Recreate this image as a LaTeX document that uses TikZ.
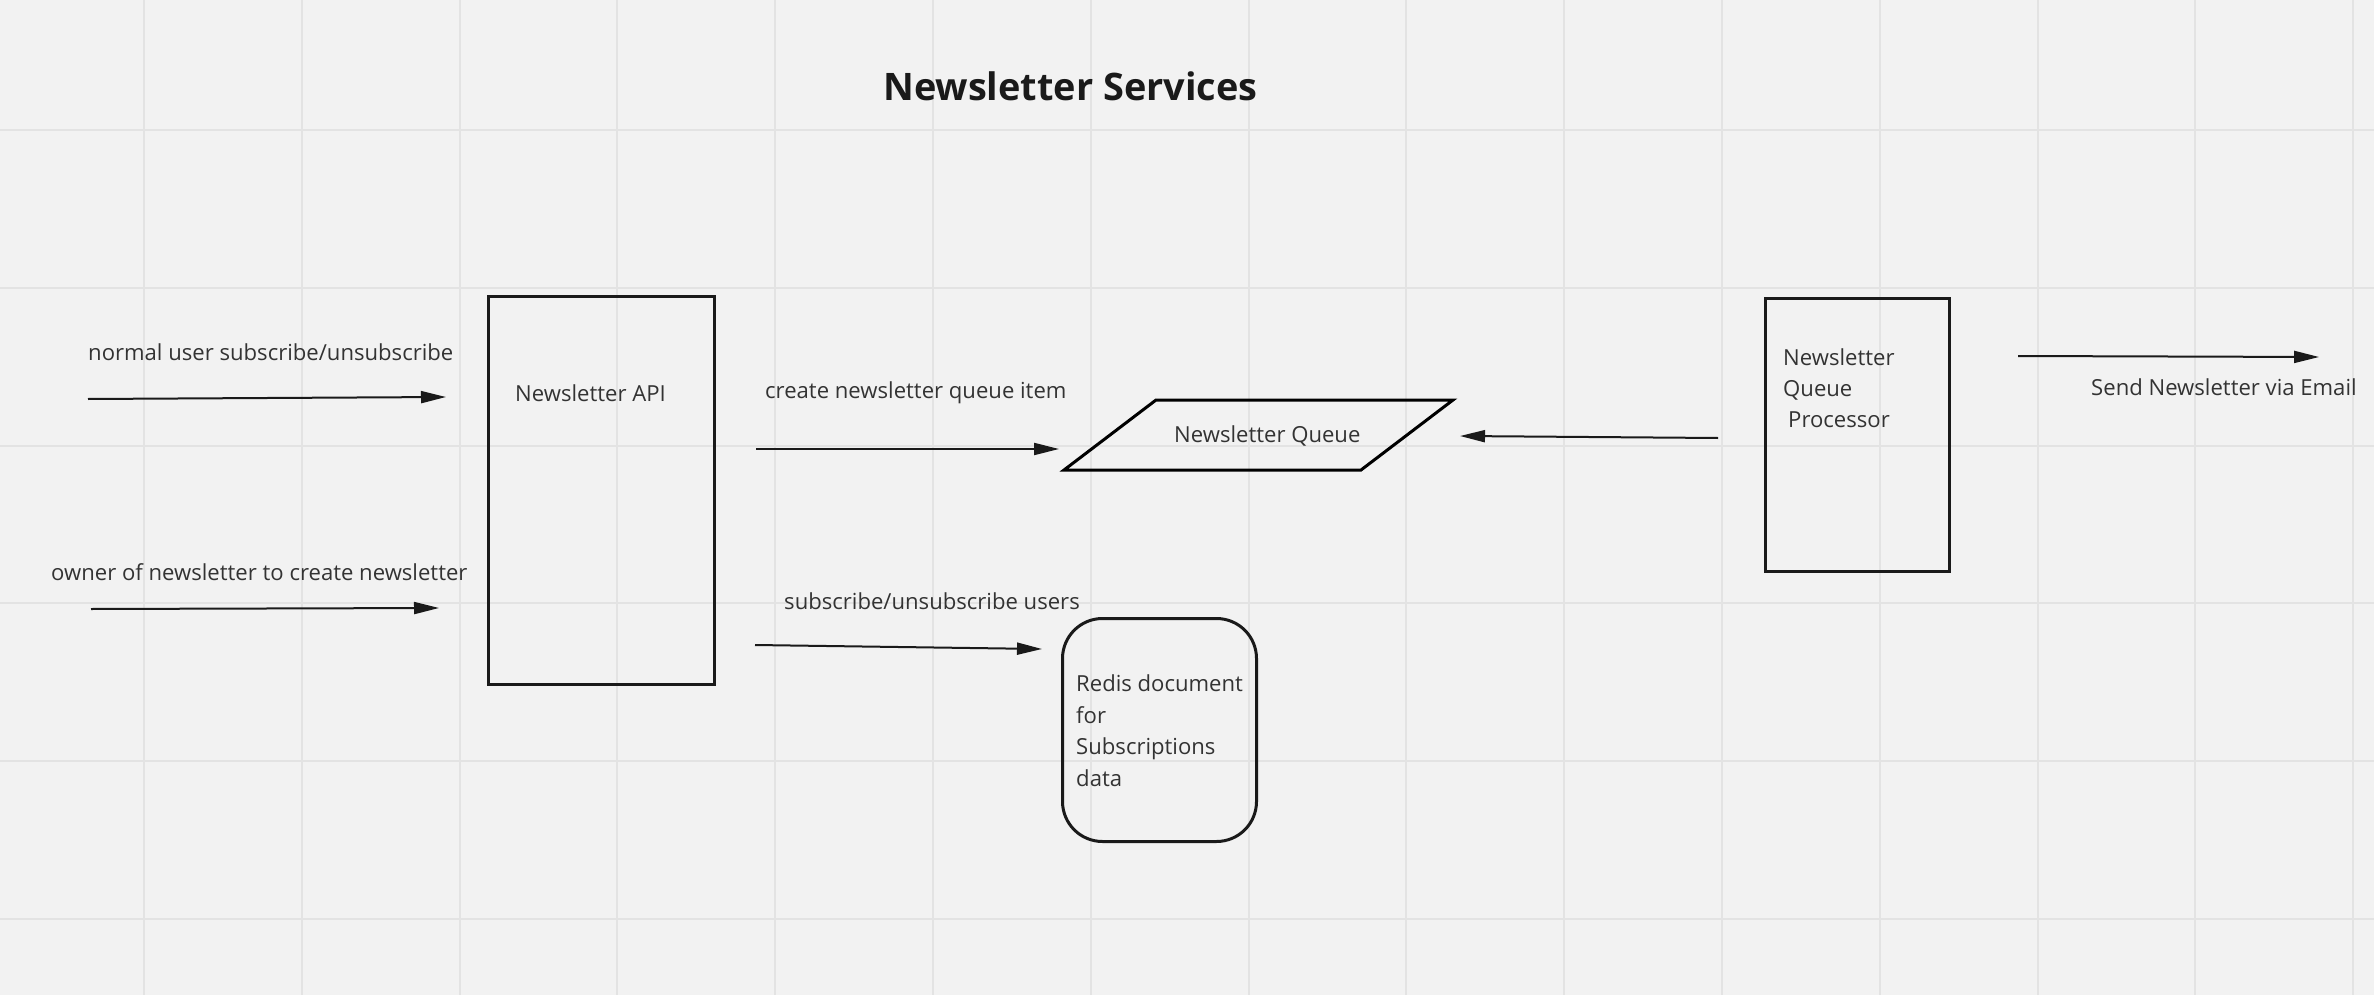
\documentclass[tikz,border=0pt]{standalone}
\usepackage{fontspec}
\setmainfont{Open Sans}
\usetikzlibrary{arrows.meta,shapes.geometric}
\definecolor{bg}{HTML}{F2F2F2}
\definecolor{gridc}{HTML}{E3E3E3}
\definecolor{txt}{HTML}{333333}
\definecolor{ttl}{HTML}{1A1A1A}
\definecolor{stroke}{HTML}{1A1A1A}
\begin{document}
\begin{tikzpicture}[x=1pt,y=-1pt,
  lbl/.style={font=\fontsize{22.1}{31.5}\selectfont, text=txt, inner sep=0pt, anchor=west, align=left},
  box/.style={draw=stroke, line width=3pt, inner sep=0pt},
  arr/.style={line width=2pt, draw=stroke, -{Triangle[length=25pt,width=12pt]}},
]
\fill[bg] (0,0) rectangle (2374,995);
\useasboundingbox (0,0) rectangle (2374,995);
\foreach \i in {0,...,14} \draw[gridc, line width=2pt] ({144+157.8*\i},0) -- ({144+157.8*\i},995);
\foreach \i in {0,...,5} \draw[gridc, line width=2pt] (0,{130+157.8*\i}) -- (2374,{130+157.8*\i});

% title
\node[font=\bfseries\fontsize{37.9}{42}\selectfont, text=ttl, anchor=west, inner sep=0pt] (title) at (883,86) {Newsletter Services};

% Newsletter API
\node[box, minimum width=226pt, minimum height=388pt, anchor=north west] (api) at (487,295) {};
\node[lbl] (apil) at (515,393) {Newsletter API};

% inputs
\node[lbl] (in1l) at (88,352) {normal user subscribe/unsubscribe};
\coordinate (in1s) at (88,399);
\coordinate (in1e) at (446,397);
\draw[arr] (in1s) -- (in1e);

\node[lbl] (in2l) at (51,572) {owner of newsletter to create newsletter};
\coordinate (in2s) at (91,609);
\coordinate (in2e) at (439,608);
\draw[arr] (in2s) -- (in2e);

% queue
\coordinate (q1) at (1064,470);
\coordinate (q2) at (1156,400);
\coordinate (q3) at (1453,400);
\coordinate (q4) at (1361,470);
\draw[stroke, line width=3pt, line join=miter] (q1) -- (q2) -- (q3) -- (q4) -- cycle;
\node[lbl] (queue) at (1174,436) {Newsletter Queue};

\node[lbl] (cql) at (765,393) {create newsletter queue item};
\coordinate (cqs) at (756,449);
\coordinate (cqe) at (1059,449);
\draw[arr] (cqs) -- (cqe);

% redis
\node[box, rounded corners=40pt, minimum width=194pt, minimum height=223pt, anchor=north west] (redis) at (1061,617) {};
\node[lbl] (redisl) at (1076,730.5) {Redis document\\for\\Subscriptions\\data};

\node[lbl] (sul) at (784,601) {subscribe/unsubscribe users};
\coordinate (sus) at (755,645);
\coordinate (sue) at (1042,649);
\draw[arr] (sus) -- (sue);

% processor
\node[box, minimum width=184pt, minimum height=273pt, anchor=north west] (proc) at (1764,297) {};
\node[lbl, font=\fontsize{22.1}{31}\selectfont] (procl) at (1783,388) {Newsletter\\Queue\\\hspace*{5pt}Processor};

\coordinate (pqs) at (1718,438);
\coordinate (pqe) at (1460,436);
\draw[arr] (pqs) -- (pqe);

% output
\coordinate (outs) at (2018,356);
\coordinate (oute) at (2319,357);
\draw[arr] (outs) -- (oute);
\node[lbl] (outl) at (2091,387) {Send Newsletter via Email};
\end{tikzpicture}
\end{document}
